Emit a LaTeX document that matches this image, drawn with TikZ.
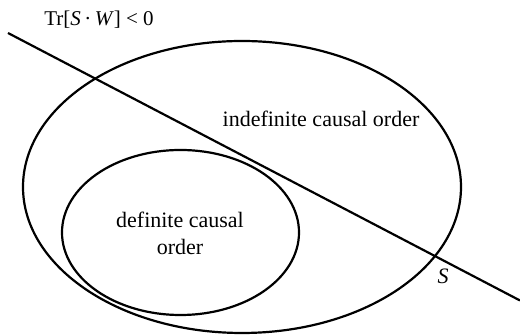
\documentclass[tikz,border=0pt]{standalone}
\usepackage{fontspec}
\setmainfont{Liberation Serif}
\begin{document}
\begin{tikzpicture}[x=0.5pt,y=-0.5pt,
  curve/.style={line width=1.1pt,black},
  lbl/.style={font=\fontsize{11pt}{13.5pt}\selectfont,inner sep=0pt,anchor=base,align=center}]
\useasboundingbox (0,0) rectangle (520,335);
\draw[curve] (242,187) ellipse [x radius=219, y radius=146];
\draw[curve] (180.5,232.5) ellipse [x radius=118.5, y radius=82.5];
\coordinate (l1) at (8,33);
\coordinate (l2) at (520,300.5);
\draw[curve] (l1) -- (l2);
\node[lbl,font=\fontsize{10.5pt}{13pt}\selectfont] (tr) at (99,26) {Tr[\textit{S}\,·\,\textit{W}] {<} 0};
\node[lbl] (ind) at (321,127) {indefinite causal order};
\node[lbl] (def) at (180,255) {definite causal\\order};
\node[lbl] (s) at (443,284) {\textit{S}};
\end{tikzpicture}
\end{document}
